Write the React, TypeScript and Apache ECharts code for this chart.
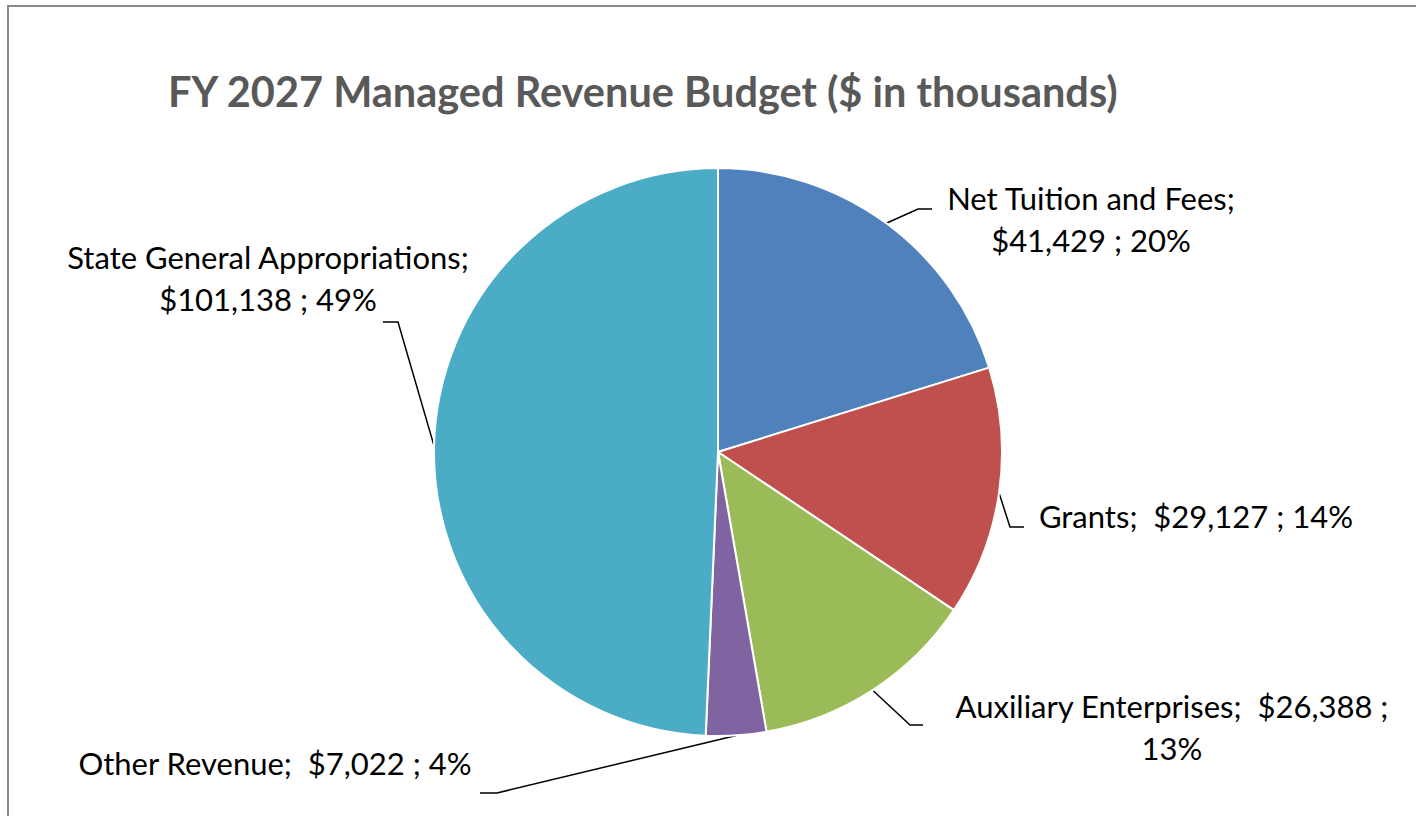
import React, { useEffect, useRef } from "react";
import * as echarts from "echarts";

const titleText = "FY 2027 Managed Revenue Budget ($ in thousands)";
const categories = [
  "Net Tuition and Fees",
  "Grants",
  "Auxiliary Enterprises",
  "Other Revenue",
  "State General Appropriations",
];
const values = [41429, 29127, 26388, 7022, 101138];
const colors = ["#4F81BD", "#C0504D", "#9BBB59", "#8064A2", "#4BACC6"];
// where each label's text wraps: after name, after value, or single line
const labelWrap = ["name", "none", "value", "none", "name"];

// label placement (layout only)
const labelPlacement = [
  { x: 1091, y: 219, elbow: [918, 209], end: [932, 209] },
  { x: 1196, y: 516, elbow: [1010, 527], end: [1024, 527] },
  { x: 1172, y: 727, elbow: [910, 725], end: [923, 725] },
  { x: 275, y: 763, elbow: [497, 793], end: [480, 793] },
  { x: 268, y: 278, elbow: [398, 322], end: [383, 322] },
];

const FONT = "Lato, 'Noto Sans', sans-serif";

export default function App() {
  const ref = useRef<HTMLDivElement>(null);
  useEffect(() => {
    if (!ref.current) return;
    const chart = echarts.init(ref.current, undefined, { renderer: "svg" });
    chart.setOption({
      animation: false,
      backgroundColor: "#ffffff",
      title: {
        text: titleText,
        left: 168,
        top: 70,
        padding: 0,
        textStyle: { fontFamily: FONT, fontWeight: "bold", fontSize: 41.5, color: "#595959" },
      },
      graphic: [
        {
          type: "rect",
          shape: { x: 8, y: 6, width: 1500, height: 900 },
          style: { fill: "none", stroke: "#898989", lineWidth: 2 },
          silent: true,
        },
      ],
      series: [
        {
          type: "pie",
          center: [718, 452],
          radius: 284,
          startAngle: 90,
          clockwise: true,
          percentPrecision: 0,
          avoidLabelOverlap: false,
          data: categories.map((c, i) => ({ name: c, value: values[i], itemStyle: { color: colors[i] } })),
          itemStyle: { borderColor: "#ffffff", borderWidth: 2 },
          label: {
            show: true,
            position: "outside",
            fontFamily: FONT,
            fontSize: 31,
            lineHeight: 42,
            color: "#000000",
            align: "center",
            formatter: (p: any) => {
              const v = "$" + Number(p.value).toLocaleString("en-US");
              const w = labelWrap[p.dataIndex];
              if (w === "name") return `${p.name};\n${v} ; ${p.percent}%`;
              if (w === "value") return `${p.name};  ${v} ;\n${p.percent}%`;
              return `${p.name};  ${v} ; ${p.percent}%`;
            },
          },
          labelLine: {
            show: true,
            length: 10,
            length2: 10,
            lineStyle: { color: "#000000", width: 1.5 },
          },
          labelLayout: (params: any) => {
            const pl = labelPlacement[params.dataIndex];
            const p0 = params.labelLinePoints ? params.labelLinePoints[0] : pl.elbow;
            return {
              x: pl.x,
              y: pl.y,
              align: "center",
              verticalAlign: "middle",
              labelLinePoints: [p0, pl.elbow, pl.end],
            };
          },
        },
      ],
    });
    return () => chart.dispose();
  }, []);
  return (
    <div
      ref={ref}
      style={{ position: "fixed", left: 0, top: 0, width: 1416, height: 816 }}
    />
  );
}
